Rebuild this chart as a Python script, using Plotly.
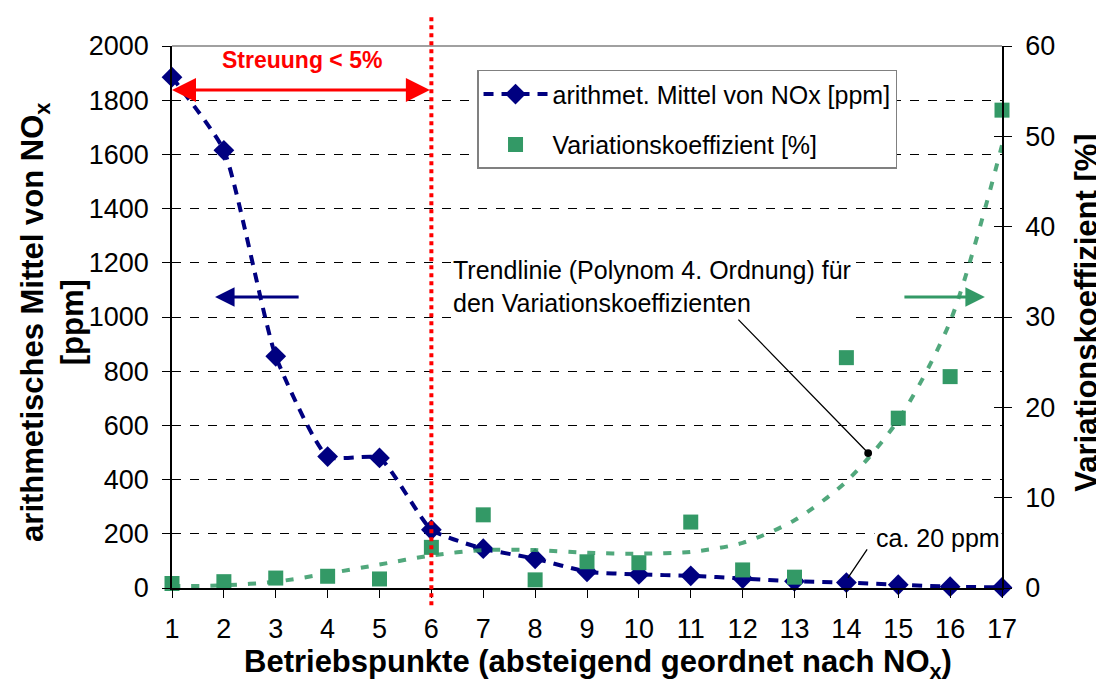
import plotly.graph_objects as go

# Betriebspunkte 1..17
punkte = list(range(1, 18))

# arithmetisches Mittel von NOx [ppm] (linke Achse)
nox_mittel = [1885, 1615, 855, 485, 480, 215, 145, 108, 60, 50, 45, 35, 25, 20, 12, 5, 2]

# Variationskoeffizient [%] (rechte Achse)
var_koeff = [0.5, 0.7, 1.1, 1.3, 1.0, 4.5, 8.1, 0.9, 2.9, 2.8, 7.3, 2.0, 1.2, 25.5, 18.8, 23.4, 52.9]

# Trendlinie (Polynom 4. Ordnung)
trend = [0.2, 0.3, 0.7, 1.6, 2.6, 3.6, 4.2, 4.2, 3.9, 3.8, 4.0, 5.0, 7.5, 11.8, 18.6, 29.5, 49.0]

NAVY = "#000080"
GREEN = "#339966"
RED = "#ff0000"
FONT = "Liberation Sans, Arial, sans-serif"

fig = go.Figure()

fig.add_trace(
    go.Scatter(
        x=punkte,
        y=nox_mittel,
        mode="lines+markers",
        name="arithmet. Mittel von NOx [ppm]",
        line=dict(color=NAVY, width=4, dash="10px,8px", shape="spline", smoothing=0.5),
        marker=dict(symbol="diamond", size=16, color=NAVY),
        cliponaxis=False,
        legendgroup="a",
    )
)
fig.add_trace(
    go.Scatter(
        x=punkte,
        y=trend,
        mode="lines",
        yaxis="y2",
        line=dict(color=GREEN, width=4, dash="8px,11px", shape="spline", smoothing=0.8),
        opacity=0.85,
        showlegend=False,
        cliponaxis=False,
    )
)
fig.add_trace(
    go.Scatter(
        x=punkte,
        y=var_koeff,
        mode="markers",
        yaxis="y2",
        name="Variationskoeffizient [%]",
        marker=dict(symbol="square", size=15, color=GREEN),
        cliponaxis=False,
        legendgroup="b",
    )
)
# leere Spur, damit yaxis3 (Innenticks rechts) gezeichnet wird
fig.add_trace(go.Scatter(x=[None], y=[None], yaxis="y3", showlegend=False, hoverinfo="skip"))

tick_font = dict(family=FONT, size=27, color="black")

# die Seite hat 8px body-Rand, daher 1096x675
fig.update_layout(
    width=1096,
    height=675,
    margin=dict(l=164, r=102, t=38, b=95),
    plot_bgcolor="white",
    paper_bgcolor="white",
    font=dict(family=FONT, color="black"),
    xaxis=dict(
        range=[1, 17],
        tickvals=punkte,
        ticks="outside",
        ticklen=8,
        tickcolor="black",
        ticklabelstandoff=8,
        showline=True,
        linecolor="black",
        linewidth=1.5,
        showgrid=False,
        zeroline=False,
        tickfont=tick_font,
    ),
    yaxis=dict(
        range=[0, 2000],
        dtick=200,
        ticks="outside",
        ticklen=8,
        tickcolor="black",
        ticklabelstandoff=8,
        showline=True,
        linecolor="black",
        linewidth=1.5,
        showgrid=True,
        gridcolor="black",
        gridwidth=1,
        griddash="dash",
        zeroline=False,
        tickfont=tick_font,
    ),
    yaxis2=dict(
        range=[0, 60],
        dtick=10,
        overlaying="y",
        side="right",
        anchor="x",
        ticks="outside",
        ticklen=8,
        tickcolor="black",
        ticklabelstandoff=8,
        showline=True,
        linecolor="black",
        linewidth=1.5,
        showgrid=False,
        zeroline=False,
        tickfont=tick_font,
    ),
    yaxis3=dict(
        range=[0, 60],
        dtick=10,
        overlaying="y",
        side="right",
        anchor="x",
        ticks="inside",
        ticklen=8,
        tickcolor="black",
        showticklabels=False,
        showline=False,
        showgrid=False,
        zeroline=False,
    ),
    legend=dict(
        x=0.3675,
        y=0.956,
        xanchor="left",
        yanchor="top",
        bgcolor="white",
        bordercolor="#808080",
        borderwidth=1.5,
        font=dict(family=FONT, size=25, color="black"),
        tracegroupgap=15,
        traceorder="grouped",
        itemwidth=64,
    ),
    showlegend=True,
)

# oberer Rahmen und rote Grenzlinie bei Punkt 6
fig.add_shape(type="line", xref="paper", yref="paper", x0=0, x1=1, y0=1, y1=1,
              line=dict(color="#808080", width=1.5))
fig.add_shape(type="line", xref="x", yref="paper", x0=6, x1=6, y0=-0.032, y1=1.06,
              line=dict(color=RED, width=4, dash="dot"))

annotations = [
    # Achsentitel
    dict(text="<b>Betriebspunkte (absteigend geordnet nach NO<sub>x</sub>)</b>",
         xref="paper", yref="paper", x=0.513, y=-0.14, xanchor="center", yanchor="middle",
         showarrow=False, font=dict(size=31)),
    dict(text="<b>arithmetisches Mittel von NO<sub>x</sub><br>[ppm]</b>",
         xref="paper", yref="paper", x=-0.144, y=0.49, xanchor="center", yanchor="middle",
         textangle=-90, showarrow=False, font=dict(size=31)),
    dict(text="<b>Variationskoeffizient [%]</b>",
         xref="paper", yref="paper", x=1.1024, y=0.508, xanchor="center", yanchor="middle",
         textangle=-90, showarrow=False, font=dict(size=31)),
    # Streuung < 5%
    dict(text="<b>Streuung < 5%</b>", xref="x", yref="y", x=3.5, y=1950,
         showarrow=False, font=dict(size=23, color=RED)),
    dict(text="", xref="x", yref="y", x=1, y=1838, axref="x", ayref="y", ax=6, ay=1838,
         showarrow=True, arrowside="end+start", arrowhead=2, arrowsize=1.6,
         arrowwidth=3, arrowcolor=RED),
    # Achsenpfeile
    dict(text="", xref="x", yref="y", x=1.83, y=1074, axref="x", ayref="y", ax=3.47, ay=1074,
         showarrow=True, arrowhead=2, arrowsize=1.3, arrowwidth=3, arrowcolor=NAVY),
    dict(text="", xref="x", yref="y", x=16.67, y=1074, axref="x", ayref="y", ax=15.09, ay=1074,
         showarrow=True, arrowhead=2, arrowsize=1.3, arrowwidth=3, arrowcolor=GREEN),
    # Trendlinie
    dict(text="Trendlinie (Polynom 4. Ordnung) für<br>den Variationskoeffizienten",
         xref="paper", yref="paper", x=0.336, y=0.557, xanchor="left", yanchor="middle",
         align="left", showarrow=False, bgcolor="white", font=dict(size=25)),
    dict(text="", xref="x", yref="y", x=14.42, y=498, axref="x", ayref="y", ax=11.89, ay=996,
         showarrow=True, arrowhead=6, arrowsize=1.5, arrowwidth=1.3, arrowcolor="black"),
    # ca. 20 ppm
    dict(text="ca. 20 ppm", xref="paper", yref="paper", x=0.846, y=0.092,
         xanchor="left", yanchor="middle", showarrow=False, bgcolor="white",
         font=dict(size=25)),
    dict(text="", xref="x", yref="y", x=14.03, y=37, axref="x", ayref="y", ax=14.42, ay=148,
         showarrow=True, arrowhead=0, arrowwidth=1.3, arrowcolor="black"),
]
for a in annotations:
    fig.add_annotation(**a)

fig.write_html("out.html")
